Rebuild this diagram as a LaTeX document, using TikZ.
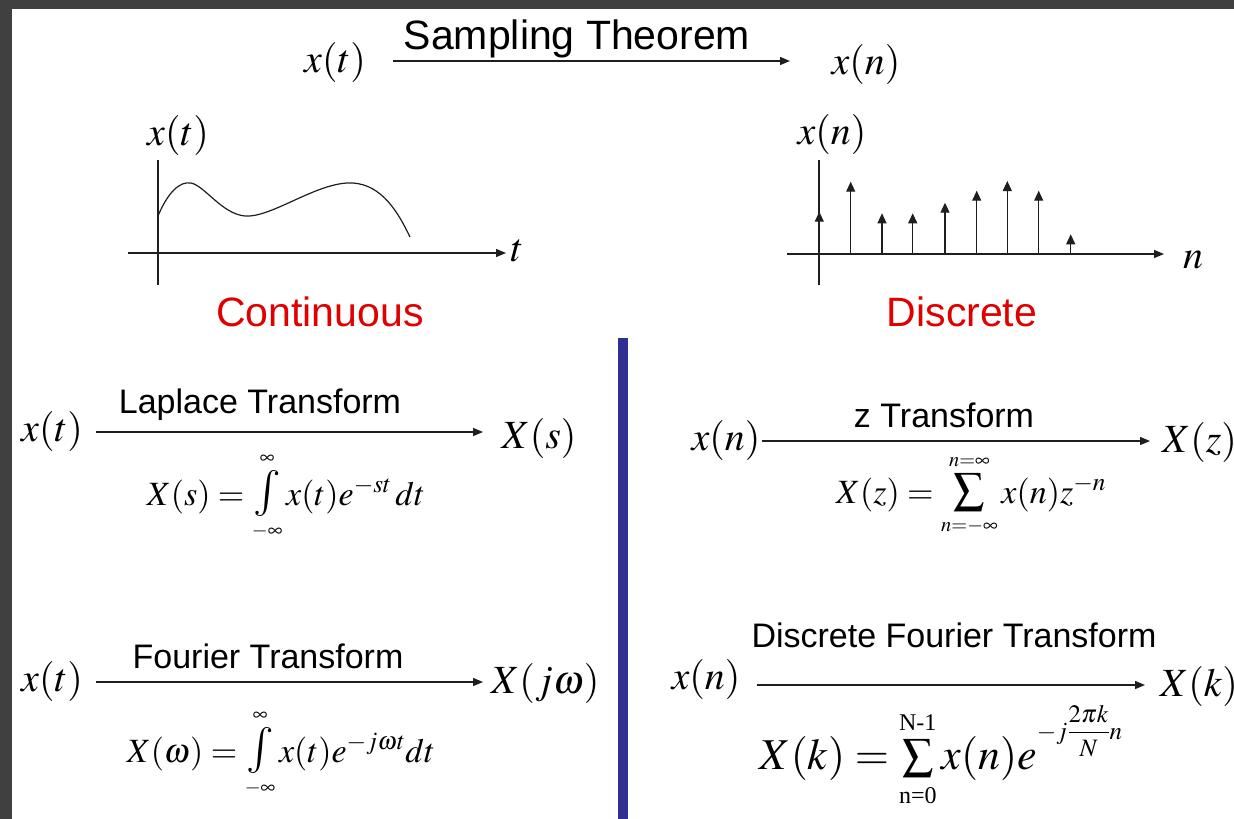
\documentclass[tikz,border=0pt]{standalone}
\usepackage{mathptmx}
\usepackage[no-math]{fontspec}
\setmainfont{Liberation Serif}
\setsansfont{Liberation Sans}
\usetikzlibrary{arrows.meta}
\definecolor{bordergray}{RGB}{64,64,64}
\definecolor{barblue}{RGB}{46,49,146}
\definecolor{titlered}{RGB}{224,0,0}
\definecolor{ink}{RGB}{30,30,30}
\newcommand{\fsz}[1]{\fontsize{#1}{#1}\selectfont}
\newcommand{\bigint}{\mathop{\hbox{\fsz{46}$\textstyle\int$}}\limits}
\newcommand{\bigsum}{\mathop{\hbox{\fsz{44}$\textstyle\sum$}}\limits}
\begin{document}
\begin{tikzpicture}[x=1pt,y=-1pt,
  arr/.style={draw=ink, line width=1.3pt, -{Triangle[length=10pt,width=8pt]}},
  stem/.style={draw=ink, line width=1.1pt, -{Triangle[length=10pt,width=9pt]}},
  axis/.style={draw=ink, line width=1.3pt},
  mlab/.style={inner sep=0pt, anchor=base, font=\fsz{40}},
  slab/.style={inner sep=0pt, anchor=base, font=\sffamily\fsz{34}},
  bigsans/.style={inner sep=0pt, anchor=base, font=\sffamily\fsz{41}},
  form/.style={inner sep=0pt, anchor=base, font=\fsz{34}},
  bigform/.style={inner sep=0pt, anchor=base, font=\fsz{44}},
]
% background and frame
\fill[white] (0,0) rectangle (1234,819);
\fill[bordergray] (0,0) rectangle (12,819);
\fill[bordergray] (0,0) rectangle (1234,9);
\useasboundingbox (0,0) rectangle (1234,819);

% ---------- title row ----------
\node[mlab] (xt0) at (335,72) {$x(t)$};
\node[mlab] (xn0) at (866,74) {$x(n)$};
\node[bigsans] (samp) at (577,49) {Sampling Theorem};
\coordinate (s0a) at (393,61);
\coordinate (s0b) at (790,61);
\draw[arr] (s0a) -- (s0b);

% ---------- continuous graph ----------
\node[mlab] (xtg) at (178,145) {$x(t)$};
\coordinate (cva) at (158,160);
\coordinate (cvb) at (158,285);
\coordinate (cha) at (128,253);
\coordinate (chb) at (506,253);
\draw[axis] (cva) -- (cvb);
\draw[arr] (cha) -- (chb);
\node[mlab] (tl) at (517,261) {$t$};
\draw[draw=ink, line width=1.2pt] (158,216) .. controls (168,192) and (180,181) .. (191,183)
  .. controls (205,186) and (222,214) .. (245,216)
  .. controls (272,218) and (318,181) .. (353,183)
  .. controls (382,185) and (398,212) .. (410,237);
\node[bigsans, text=titlered] (cont) at (320,326) {Continuous};

% ---------- discrete graph ----------
\node[mlab] (xng) at (832,144) {$x(n)$};
\coordinate (dva) at (819,160);
\coordinate (dvb) at (819,285);
\coordinate (dha) at (787,254);
\coordinate (dhb) at (1164,254);
\draw[axis] (dva) -- (dvb);
\draw[arr] (dha) -- (dhb);
\node[mlab] (nl) at (1193,268) {$n$};
\foreach \i/\xx/\yy in {1/819.3/211.7, 2/850.7/181.7, 3/882/213.3, 4/912.7/213.3,
  5/945/202.7, 6/976.7/190.7, 7/1007.3/181, 8/1038.7/190.7, 9/1070.7/234.3}{
  \coordinate (sb\i) at (\xx,254);
  \coordinate (st\i) at (\xx,\yy);
  \draw[stem] (sb\i) -- (st\i);
}
\node[bigsans, text=titlered] (disc) at (962,326) {Discrete};

% ---------- divider ----------
\fill[barblue] (618,338) rectangle (628,819);

% ---------- Laplace ----------
\node[mlab] (xtL) at (52,441) {$x(t)$};
\node[mlab] (XsL) at (539,448) {$X(s)$};
\node[slab] (lapl) at (260,413) {Laplace Transform};
\coordinate (la) at (96,432);
\coordinate (lb) at (483,432);
\draw[arr] (la) -- (lb);
\node[form] (lapf) at (286,505)
  {$X(s)=\bigint_{\scriptscriptstyle-\infty}^{\scriptscriptstyle\infty}x(t)e^{-st}\,dt$};

% ---------- Fourier ----------
\node[mlab] (xtF) at (52,691) {$x(t)$};
\node[mlab, anchor=base west] (XwF) at (491,693) {$X(j\omega)$};
\node[slab] (four) at (268,668) {Fourier Transform};
\coordinate (fa) at (96,682);
\coordinate (fb) at (483,682);
\draw[arr] (fa) -- (fb);
\node[form] (fourf) at (281,762)
  {$X(\omega)=\bigint_{\scriptscriptstyle-\infty}^{\scriptscriptstyle\infty}x(t)e^{-j\omega t}dt$};

% ---------- z transform ----------
\node[mlab] (xnZ) at (726,450) {$x(n)$};
\node[mlab, anchor=base west] (XzZ) at (1162,452) {$X(z)$};
\node[slab] (ztr) at (944,427) {z Transform};
\coordinate (za) at (762,441);
\coordinate (zb) at (1150,441);
\draw[arr] (za) -- (zb);
\node[form] (zf) at (971,503)
  {$X(z)=\bigsum_{\scriptscriptstyle n=-\infty}^{\scriptscriptstyle n=\infty}x(n)z^{-n}$};

% ---------- DFT ----------
\node[mlab] (xnD) at (706,689) {$x(n)$};
\node[mlab, anchor=base west] (XkD) at (1160,696) {$X(k)$};
\node[slab] (dft) at (954,647) {Discrete Fourier Transform};
\coordinate (da) at (757,685);
\coordinate (db) at (1145,685);
\draw[arr] (da) -- (db);
\node[bigform] (dftf) at (941,769)
  {$X(k)=\sum\limits_{\mbox{\fsz{24}n=0}}^{\mbox{\fsz{24}N-1}}x(n)e\raisebox{30pt}{\fsz{25}$-j\displaystyle\frac{2\pi k}{N}n$}$};
\end{tikzpicture}
\end{document}
